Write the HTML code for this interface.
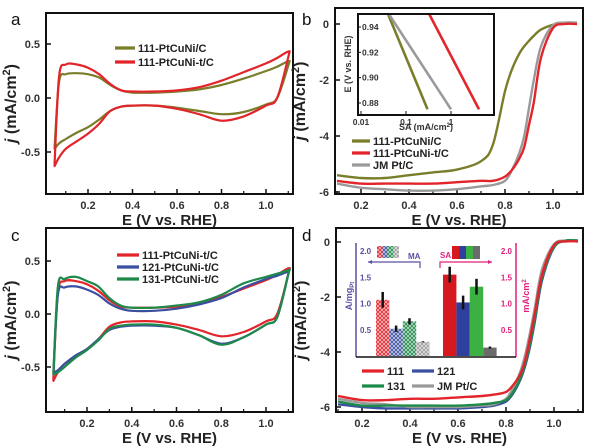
<!DOCTYPE html>
<html><head><meta charset="utf-8"><style>
body{margin:0;background:#fff;width:600px;height:448px;overflow:hidden}
svg{display:block;font-family:"Liberation Sans",sans-serif;font-weight:bold}
</style></head><body>
<svg id="s" width="600" height="448" viewBox="0 0 600 448"></svg>
<script>
// ---------- data ----------
const cvE = [0.05,0.07,0.1,0.15,0.2,0.25,0.3,0.35,0.4,0.5,0.6,0.7,0.8,0.9,1.0,1.05,1.1];
const aOliveUp = [-0.45,0.15,0.22,0.23,0.22,0.19,0.12,0.07,0.05,0.05,0.06,0.08,0.12,0.18,0.25,0.29,0.34];
const aOliveDn = [-0.47,-0.42,-0.38,-0.32,-0.27,-0.2,-0.12,-0.08,-0.07,-0.07,-0.09,-0.12,-0.15,-0.13,-0.06,0.0,0.3];
const aRedUp = [-0.6,0.2,0.31,0.31,0.28,0.22,0.13,0.07,0.06,0.06,0.07,0.1,0.16,0.24,0.32,0.37,0.43];
const aRedDn = [-0.63,-0.55,-0.47,-0.4,-0.33,-0.24,-0.12,-0.08,-0.07,-0.07,-0.1,-0.15,-0.21,-0.17,-0.07,0.0,0.38];
const cBlueUp = [-0.55,0.18,0.25,0.26,0.23,0.18,0.1,0.05,0.03,0.03,0.05,0.09,0.15,0.25,0.33,0.36,0.4];
const cBlueDn = [-0.55,-0.53,-0.47,-0.39,-0.33,-0.24,-0.15,-0.12,-0.11,-0.11,-0.13,-0.2,-0.28,-0.22,-0.1,-0.03,0.38];
const cGreenUp = [-0.55,0.26,0.33,0.35,0.31,0.26,0.15,0.08,0.06,0.06,0.08,0.11,0.18,0.29,0.35,0.38,0.41];
const cGreenDn = [-0.57,-0.55,-0.5,-0.41,-0.34,-0.25,-0.14,-0.11,-0.1,-0.1,-0.13,-0.2,-0.29,-0.22,-0.1,-0.03,0.38];
const lsvE = [0.1,0.2,0.3,0.4,0.5,0.6,0.7,0.75,0.8,0.83,0.86,0.88,0.9,0.92,0.95,1.0,1.05,1.1];
const bOlive = [-5.4,-5.5,-5.5,-5.4,-5.3,-5.2,-4.9,-4.3,-2.4,-1.6,-1.05,-0.8,-0.6,-0.42,-0.2,-0.03,0.02,0.03];
const bRed = [-5.6,-5.7,-5.7,-5.7,-5.7,-5.65,-5.6,-5.6,-5.45,-5.2,-4.8,-4.4,-3.6,-2.8,-1.2,-0.15,0,0];
const bGray = [-5.7,-5.85,-5.9,-5.95,-5.95,-5.9,-5.8,-5.75,-5.6,-5.2,-4.6,-4.0,-3.0,-2.0,-0.8,-0.05,0.05,0.05];
const dRed = [-5.6,-5.75,-5.75,-5.7,-5.7,-5.65,-5.6,-5.55,-5.45,-5.2,-4.8,-4.3,-3.5,-2.6,-1.2,-0.12,0.02,0.02];
const dBlue = [-5.9,-6.0,-6.05,-6.05,-6.05,-6.05,-6.0,-5.95,-5.8,-5.5,-5.0,-4.5,-3.8,-2.9,-1.4,-0.2,0.05,0.05];
const dGreen = [-5.8,-5.95,-5.95,-5.95,-5.95,-5.95,-5.9,-5.85,-5.75,-5.45,-4.95,-4.4,-3.7,-2.8,-1.3,-0.18,0.05,0.05];
const dGray = [-5.7,-5.85,-5.9,-6.0,-6.0,-6.0,-5.95,-5.9,-5.7,-5.3,-4.7,-4.1,-3.3,-2.4,-1.0,-0.08,0.05,0.05];
const insetE = [0.95,0.875];
const insetOlive = [0.04,0.3];
const insetGray = [0.042,1.0];
const insetRed = [0.33,4.2];
const barCats = ['111','121','131','JM Pt/C'];
const maValues = [1.07,0.52,0.66,0.27];
const maErr = [0.15,0.06,0.06,0.01];
const saValues = [1.55,1.02,1.32,0.16];
const saErr = [0.15,0.13,0.15,0.02];
const cvYTicks = [0.5,0.0,-0.5];
const cvYTickLabels = ['0.5','0.0','-0.5'];
const xTicks = [0.2,0.4,0.6,0.8,1.0];
const xTickLabels = ['0.2','0.4','0.6','0.8','1.0'];
const lsvYTicks = [0,-2,-4,-6];
const lsvYTickLabels = ['0','-2','-4','-6'];
const insetYTicks = [0.94,0.92,0.90,0.88];
const insetYTickLabels = ['0.94','0.92','0.90','0.88'];
const insetXTicks = [0.01,0.1,1];
const insetXTickLabels = ['0.01','0.1','1'];
const barYTicks = [0.5,1.0,1.5,2.0];
const barYTickLabels = ['0.5','1.0','1.5','2.0'];

// ---------- helpers ----------
const S = document.getElementById('s');
const NS = 'http://www.w3.org/2000/svg';
function el(tag, attrs, parent){const e=document.createElementNS(NS,tag);for(const k in attrs)e.setAttribute(k,attrs[k]);(parent||S).appendChild(e);return e;}
function lin(d0,d1,r0,r1){return v=>r0+(v-d0)*(r1-r0)/(d1-d0);}
function smooth(pts){let d='M'+pts[0][0].toFixed(1)+','+pts[0][1].toFixed(1);
 for(let i=0;i<pts.length-1;i++){const p0=pts[i-1]||pts[i],p1=pts[i],p2=pts[i+1],p3=pts[i+2]||p2;
  const c1=[p1[0]+(p2[0]-p0[0])/6,p1[1]+(p2[1]-p0[1])/6],c2=[p2[0]-(p3[0]-p1[0])/6,p2[1]-(p3[1]-p1[1])/6];
  d+=' C'+c1.map(v=>v.toFixed(1))+' '+c2.map(v=>v.toFixed(1))+' '+p2.map(v=>v.toFixed(1));}
 return d;}
function text(x,y,s,attrs,name){const t=el('text',Object.assign({x:x,y:y,'font-size':11,fill:'#333'},attrs||{}));t.textContent=s;
 
 return t;}
function frame(x0,y0,x1,y1,name){const r=el('rect',{x:x0,y:y0,width:x1-x0,height:y1-y0,fill:'none',stroke:'#111','stroke-width':2});
 
 }
function axes(p){
 frame(p.x0,p.y0,p.x1,p.y1,p.name+'-frame');
 xTicks.forEach((v,i)=>{const x=p.xs(v);el('line',{x1:x,x2:x,y1:p.y1,y2:p.y1-5,stroke:'#111','stroke-width':1.5});
  text(x,p.y1+15,xTickLabels[i],{'text-anchor':'middle'},p.name+'-x-tick');});
 for(let v=0.1;v<1.12;v+=0.2){const x=p.xs(v);el('line',{x1:x,x2:x,y1:p.y1,y2:p.y1-3,stroke:'#111','stroke-width':1.2});}
 p.yTicks.forEach((v,i)=>{const y=p.ys(v);el('line',{x1:p.x0,x2:p.x0+5,y1:y,y2:y,stroke:'#111','stroke-width':1.5});
  text(p.x0-6,y+4,p.yLabels[i],{'text-anchor':'end'},p.name+'-y-tick');});
 text((p.x0+p.x1)/2,p.y1+31,'E (V vs. RHE)',{'text-anchor':'middle','font-size':15,fill:'#222'},p.name+'-x-axis-title');
 const cy=(p.y0+p.y1)/2, tx=p.x0-p.ylx;
 const t=text(tx,cy,'',{'text-anchor':'middle','font-size':16,fill:'#222',transform:'rotate(-90 '+tx+' '+cy+')'},p.name+'-y-axis-title');
 t.innerHTML='<tspan font-style="italic">j</tspan> (mA/cm<tspan dy="-6" font-size="11">2</tspan><tspan dy="6">)</tspan>';
}
function cvLoop(p,up,dn,color,name){
 const pts=cvE.map((e,i)=>[p.xs(e),p.ys(up[i])]);
 const back=cvE.map((e,i)=>[p.xs(e),p.ys(dn[i])]).reverse();
 const path=el('path',{d:smooth(pts.concat(back))+' Z',fill:'none',stroke:color,'stroke-width':2.2,'stroke-linejoin':'round'});
 
 }
function lsv(p,xsArr,ys,color,name,w){
 const path=el('path',{d:smooth(xsArr.map((e,i)=>[p.xs(e),p.ys(ys[i])])),fill:'none',stroke:color,'stroke-width':w||2.4});
 
 }
function legend(x,y,color,label,name,len){
 el('line',{x1:x,x2:x+(len||20),y1:y,y2:y,stroke:color,'stroke-width':3.2});
 text(x+(len||20)+3,y+4,label,{fill:'#222','font-size':11},name);}
function letter(x,y,s){text(x,y,s,{'font-size':17,fill:'#111','font-weight':'normal'},'panel-label-'+s);}

const OLIVE='#7a7d2a',RED='#e3242b',GRAY='#9a9a9a',BLUE='#3b4fa0',GREEN='#1e8a4a';

// ---------- panel a ----------
const pa={name:'panel-a',x0:46,x1:293,y0:13,y1:194,ylx:30,yTicks:cvYTicks,yLabels:cvYTickLabels};
pa.xs=lin(0.2,1.0,88,266); pa.ys=lin(0,0.5,98,44);
axes(pa);
cvLoop(pa,aOliveUp,aOliveDn,OLIVE,'cv-111-PtCuNi-C');
cvLoop(pa,aRedUp,aRedDn,RED,'cv-111-PtCuNi-t-C');
legend(115,48,OLIVE,'111-PtCuNi/C','legend-olive',20);
legend(115,62,RED,'111-PtCuNi-t/C','legend-red',20);
letter(11,25,'a');

// ---------- panel b ----------
const pb={name:'panel-b',x0:335,x1:583,y0:8,y1:194,ylx:30,yTicks:lsvYTicks,yLabels:lsvYTickLabels};
pb.xs=lin(0.2,1.0,361,553); pb.ys=lin(0,-6,24,192);
axes(pb);
lsv(pb,lsvE,bOlive,OLIVE,'lsv-111-PtCuNi-C');
lsv(pb,lsvE,bGray,GRAY,'lsv-JM-PtC');
lsv(pb,lsvE,bRed,RED,'lsv-111-PtCuNi-t-C');
legend(352,141,OLIVE,'111-PtCuNi/C','legend-olive-b',18);
legend(352,153,RED,'111-PtCuNi-t/C','legend-red-b',18);
legend(352,165,GRAY,'JM Pt/C','legend-gray-b',18);
letter(302,25,'b');
// inset b
const ib={x0:358,x1:494,y0:14,y1:115};
const ibx=v=>lin(-2,0,361,451)(Math.log10(v)), iby=lin(0.94,0.88,27,103);
el('rect',{x:ib.x0,y:ib.y0,width:ib.x1-ib.x0,height:ib.y1-ib.y0,fill:'#fff',stroke:'none'});
const clip=el('clipPath',{id:'cb'});el('rect',{x:ib.x0,y:ib.y0,width:ib.x1-ib.x0,height:ib.y1-ib.y0},clip);
const g=el('g',{'clip-path':'url(#cb)'});
[[insetOlive,OLIVE,'inset-olive'],[insetGray,GRAY,'inset-gray'],[insetRed,RED,'inset-red']].forEach(s=>{
 const l=el('path',{d:'M'+s[0].map((v,i)=>ibx(v).toFixed(1)+','+iby(insetE[i]).toFixed(1)).join(' L'),stroke:s[1],'stroke-width':2.6,fill:'none'},g);
 
 });
frame(ib.x0,ib.y0,ib.x1,ib.y1,'inset-b-frame');
insetYTicks.forEach((v,i)=>{el('line',{x1:ib.x0,x2:ib.x0+3,y1:iby(v),y2:iby(v),stroke:'#111'});text(ib.x0+4,iby(v)+3,insetYTickLabels[i],{'font-size':8.5},'inset-y-tick');});
insetXTicks.forEach((v,i)=>{el('line',{x1:ibx(v),x2:ibx(v),y1:ib.y1,y2:ib.y1-4,stroke:'#111'});text(ibx(v),ib.y1+10,insetXTickLabels[i],{'font-size':8.5,'text-anchor':'middle'},'inset-x-tick');});
text(426,130,'',{'font-size':9,'text-anchor':'middle'},'inset-x-title').innerHTML='SA (mA/cm<tspan dy="-3" font-size="6">2</tspan><tspan dy="3">)</tspan>';
text(351,64,'E (V vs. RHE)',{'font-size':9,'text-anchor':'middle',transform:'rotate(-90 351 64)'},'inset-y-title');

// ---------- panel c ----------
const pc={name:'panel-c',x0:46,x1:293,y0:228,y1:412,ylx:30,yTicks:cvYTicks,yLabels:cvYTickLabels};
pc.xs=lin(0.2,1.0,87,266); pc.ys=lin(0,0.5,314,261);
axes(pc);
cvLoop(pc,aRedUp,aRedDn,RED,'cv-111-t');
cvLoop(pc,cBlueUp,cBlueDn,BLUE,'cv-121-t');
cvLoop(pc,cGreenUp,cGreenDn,GREEN,'cv-131-t');
legend(117,255,RED,'111-PtCuNi-t/C','legend-111-c',22);
legend(117,267,BLUE,'121-PtCuNi-t/C','legend-121-c',22);
legend(117,279,GREEN,'131-PtCuNi-t/C','legend-131-c',22);
letter(11,241,'c');

// ---------- panel d ----------
const pd={name:'panel-d',x0:336,x1:583,y0:228,y1:412,ylx:30,yTicks:lsvYTicks,yLabels:lsvYTickLabels};
pd.xs=lin(0.2,1.0,362,554); pd.ys=lin(0,-6,242,407);
axes(pd);
lsv(pd,lsvE,dBlue,BLUE,'lsv-121');
lsv(pd,lsvE,dGray,GRAY,'lsv-JM-d');
lsv(pd,lsvE,dGreen,GREEN,'lsv-131');
lsv(pd,lsvE,dRed,RED,'lsv-111');
legend(362,371,RED,'111','legend-111-d',22);
legend(412,371,BLUE,'121','legend-121-d',22);
legend(362,386,GREEN,'131','legend-131-d',22);
legend(412,386,GRAY,'JM Pt/C','legend-jm-d',22);
letter(302,241,'d');
// inset d bar chart
const defs=el('defs',{});
const barColors=[RED,BLUE,GREEN,GRAY], saColors=['#d8181f','#2f3f9e','#3cb043','#6b6b6b'];
barColors.forEach((c,i)=>{const pt=el('pattern',{id:'h'+i,width:4,height:4,patternUnits:'userSpaceOnUse'},defs);
 el('rect',{width:4,height:4,fill:c},pt);el('path',{d:'M0,0 L4,4 M4,0 L0,4',stroke:'#fff','stroke-width':0.8,opacity:0.7},pt);});
const by=lin(0,2.0,356,251);
el('rect',{x:356,y:242,width:160,height:115,fill:'#fff'});
el('line',{x1:356,x2:356,y1:243,y2:357,stroke:'#5b4fa0','stroke-width':1.5});
el('line',{x1:516,x2:516,y1:243,y2:357,stroke:'#e0207a','stroke-width':1.5});
el('line',{x1:356,x2:516,y1:357,y2:357,stroke:'#111','stroke-width':1.5});
barYTicks.forEach((v,i)=>{text(360,by(v)+3,barYTickLabels[i],{'font-size':8,fill:'#5b4fa0'},'ma-y-tick');
 text(512,by(v)+3,barYTickLabels[i],{'font-size':8,fill:'#e0207a','text-anchor':'end'},'sa-y-tick');});
const bw=13.4;
maValues.forEach((v,i)=>{const x=376+i*bw;const r=el('rect',{x:x,y:by(v),width:bw,height:by(0)-by(v),fill:'url(#h'+i+')'});
 
 
 el('line',{x1:x+bw/2,x2:x+bw/2,y1:by(v+maErr[i]),y2:by(v-maErr[i]),stroke:'#111','stroke-width':2.5});});
saValues.forEach((v,i)=>{const x=443+i*bw;const r=el('rect',{x:x,y:by(v),width:bw,height:by(0)-by(v),fill:saColors[i]});
 
 
 el('line',{x1:x+bw/2,x2:x+bw/2,y1:by(v+saErr[i]),y2:by(v-saErr[i]),stroke:'#111','stroke-width':2.5});});
barColors.forEach((c,i)=>el('rect',{x:377+i*5.5,y:246,width:5.5,height:12,fill:'url(#h'+i+')'}));
el('path',{d:'M368,262 L420,262 L420,268',stroke:'#5b4fa0','stroke-width':1.2,fill:'none'});
el('path',{d:'M368,262 l4,-2 l0,4 z',fill:'#5b4fa0'});
text(408,259,'MA',{'font-size':8,fill:'#5b4fa0'},'ma-label');
saColors.forEach((c,i)=>el('rect',{x:452+i*7,y:246,width:7,height:13,fill:c}));
el('path',{d:'M440,268 L440,262 L492,262',stroke:'#e0207a','stroke-width':1.2,fill:'none'});
el('path',{d:'M492,262 l-4,-2 l0,4 z',fill:'#e0207a'});
text(440,258,'SA',{'font-size':8,fill:'#e0207a'},'sa-label');
text(0,0,'',{'font-size':9,fill:'#5b4fa0','text-anchor':'middle',transform:'translate(352 296) rotate(-90)'},'ma-axis-title').innerHTML='A/mg<tspan dy="2" font-size="6">Pt</tspan>';
text(0,0,'',{'font-size':9,fill:'#e0207a','text-anchor':'middle',transform:'translate(529 296) rotate(-90)'},'sa-axis-title').innerHTML='mA/cm<tspan dy="-3" font-size="6">2</tspan>';
</script>
</body></html>
